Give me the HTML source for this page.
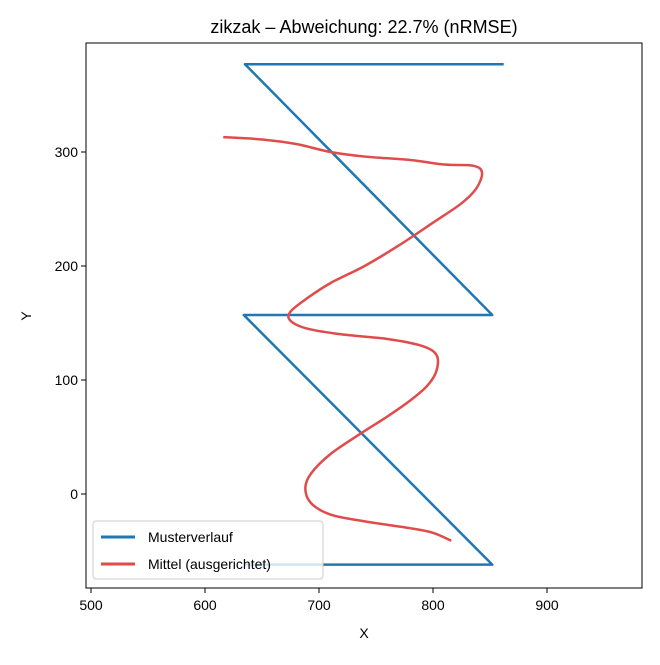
<!DOCTYPE html>
<html><head><meta charset="utf-8"><style>
body{margin:0;background:#fff;font-family:"Liberation Sans","DejaVu Sans",sans-serif}
</style></head><body>
<svg width="660" height="660" xmlns="http://www.w3.org/2000/svg" id="svg">
<rect width="660" height="660" fill="#fff"/>
<text x="364" y="33" text-anchor="middle" font-size="18">zikzak – Abweichung: 22.7% (nRMSE)</text>
<g id="plot"></g>
<rect x="86" y="43" width="556" height="545" fill="none" stroke="#000" stroke-width="1"/>
<text x="364" y="638" text-anchor="middle" font-size="14">X</text>
<text x="31" y="316" text-anchor="middle" font-size="14" transform="rotate(-90 31 316)">Y</text>
<g>
<rect x="93" y="521" width="230" height="58" rx="3" fill="#fff" fill-opacity="0.8" stroke="#ccc"/>
<line x1="101" y1="537" x2="135" y2="537" stroke="#1f77b4" stroke-width="3"/>
<text x="148" y="542" font-size="14">Musterverlauf</text>
<line x1="101" y1="564" x2="135" y2="564" stroke="#e04b4b" stroke-width="3"/>
<text x="148" y="569" font-size="14">Mittel (ausgerichtet)</text>
</g>
</svg>
<script>
const xTicks=[500,600,700,800,900];
const yTicks=[0,100,200,300];
const blueX=[862,635,640,852,634,852,635];
const blueY=[377,377,372,157,157,-62,-62];
const redX=[616,650,680,710,740,780,810,835,843,838,825,800,770,740,710,690,675,675,690,720,760,790,803,803,795,780,760,735,710,693,688,693,710,740,780,800,816];
const redY=[313,311,307,300,296,293,289,288,282,268,255,238,218,200,185,172,160,152,145,140,136,130,122,108,95,82,68,52,35,18,5,-8,-18,-24,-30,-34,-41];
const NS="http://www.w3.org/2000/svg";
const sx=v=>91+(v-500)*1.14, sy=v=>494-v*1.14;
const g=document.getElementById('plot');
function mk(t,a){const e=document.createElementNS(NS,t);for(const k in a)e.setAttribute(k,a[k]);g.appendChild(e);return e;}
xTicks.forEach(v=>{
 const l=mk('line',{x1:sx(v),x2:sx(v),y1:588,y2:593,stroke:'#000'});
 
 
 const t=mk('text',{x:sx(v),y:610,'text-anchor':'middle','font-size':14});t.textContent=v;
 
 
});
yTicks.forEach(v=>{
 const l=mk('line',{x1:81,x2:86,y1:sy(v),y2:sy(v),stroke:'#000'});
 
 
 const t=mk('text',{x:78,y:sy(v)+5,'text-anchor':'end','font-size':14});t.textContent=v;
 
 
});
const bp=mk('polyline',{points:blueX.map((x,i)=>sx(x)+','+sy(blueY[i])).join(' '),fill:'none',stroke:'#1f77b4','stroke-width':2.5,'stroke-linejoin':'round'});


let d='M'+sx(redX[0])+','+sy(redY[0]);
for(let i=1;i<redX.length;i++){
 const p0=[sx(redX[Math.max(0,i-2)]),sy(redY[Math.max(0,i-2)])],p1=[sx(redX[i-1]),sy(redY[i-1])],p2=[sx(redX[i]),sy(redY[i])],p3=[sx(redX[Math.min(redX.length-1,i+1)]),sy(redY[Math.min(redX.length-1,i+1)])];
 const c1=[p1[0]+(p2[0]-p0[0])/6,p1[1]+(p2[1]-p0[1])/6],c2=[p2[0]-(p3[0]-p1[0])/6,p2[1]-(p3[1]-p1[1])/6];
 d+=` C${c1} ${c2} ${p2}`;
}
const rp=mk('path',{d:d,fill:'none',stroke:'#e04b4b','stroke-width':2.5});


</script>
</body></html>
